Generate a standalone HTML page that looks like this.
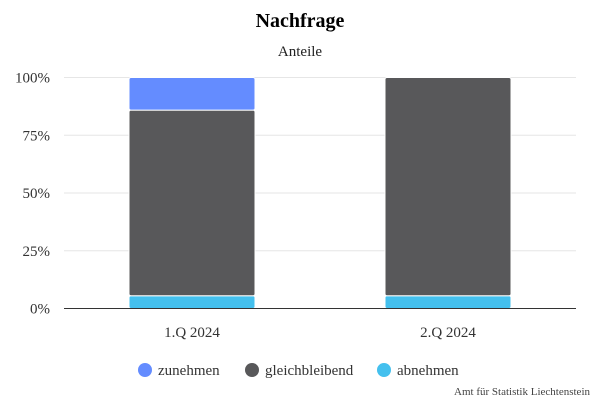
<!DOCTYPE html>
<html><head><meta charset="utf-8"><style>
body{margin:0;background:#fff;}
svg text{font-family:"Liberation Serif",serif;}
</style></head><body>
<svg width="600" height="400" xmlns="http://www.w3.org/2000/svg">
<rect width="600" height="400" fill="#fff"/>
<text x="300" y="27" text-anchor="middle" font-size="20" font-weight="bold" fill="#000">Nachfrage</text>
<text x="300" y="56" text-anchor="middle" font-size="15" fill="#222">Anteile</text>
<g id="grid"></g>
<g id="bars"></g>
<line x1="64" x2="576" y1="308.5" y2="308.5" stroke="#333" stroke-width="1"/>
<g id="xlabels"></g>
<g id="legend"></g>
<text x="590" y="395" text-anchor="end" font-size="11" fill="#444">Amt für Statistik Liechtenstein</text>
</svg>
<script>
const categories=["1.Q 2024","2.Q 2024"];
const seriesNames=["abnehmen","gleichbleibend","zunehmen"];
const abnehmen=[5.5,5.5];
const gleichbleibend=[80.4,94.5];
const zunehmen=[14.1,0];
const yTicks=[0,25,50,75,100];
const tickLabels=["0%","25%","50%","75%","100%"];
const colors=["#44c0ee","#58585a","#648cff"];
const NS="http://www.w3.org/2000/svg";
const x0=64,x1=576,yBase=308.5,yTop=77.5;
function y(v){return yBase-(v/100)*(yBase-yTop);}
function xc(i){const w=(x1-x0)/categories.length;return x0+w*(i+0.5);}
const bw=126;
function mk(t,a,p){const e=document.createElementNS(NS,t);for(const k in a)e.setAttribute(k,a[k]);p.appendChild(e);return e;}
const grid=document.getElementById('grid');
yTicks.forEach((v,i)=>{
 if(v>0){const l=mk('line',{x1:x0,x2:x1,y1:y(v),y2:y(v),stroke:'#e6e6e6','stroke-width':1},grid);
 
 }
 const t=mk('text',{x:50,y:y(v)+5,'text-anchor':'end','font-size':15,fill:'#333'},grid);
 t.textContent=tickLabels[i];
 
 
});
const bars=document.getElementById('bars');
const data=[abnehmen,gleichbleibend,zunehmen];
categories.forEach((c,i)=>{
 let acc=0;
 data.forEach((s,j)=>{
  const v=s[i];if(v<=0)return;
  const r=mk('rect',{x:xc(i)-bw/2,y:y(acc+v),width:bw,height:y(acc)-y(acc+v),fill:colors[j],stroke:'#fff','stroke-width':1,rx:2},bars);
  
  
  acc+=v;
 });
 const t=mk('text',{x:xc(i),y:337,'text-anchor':'middle','font-size':15,fill:'#333'},document.getElementById('xlabels'));
 t.textContent=c;
 
 
});
const leg=document.getElementById('legend');
const legOrder=[2,1,0];const legX=[145,252,384];
legOrder.forEach((j,k)=>{
 const g=mk('g',{},leg);
 
 
 mk('circle',{cx:legX[k],cy:370,r:7,fill:colors[j]},g);
 const t=mk('text',{x:legX[k]+13,y:375,'font-size':15,fill:'#333'},g);
 t.textContent=seriesNames[j];
});
</script>
</body></html>
